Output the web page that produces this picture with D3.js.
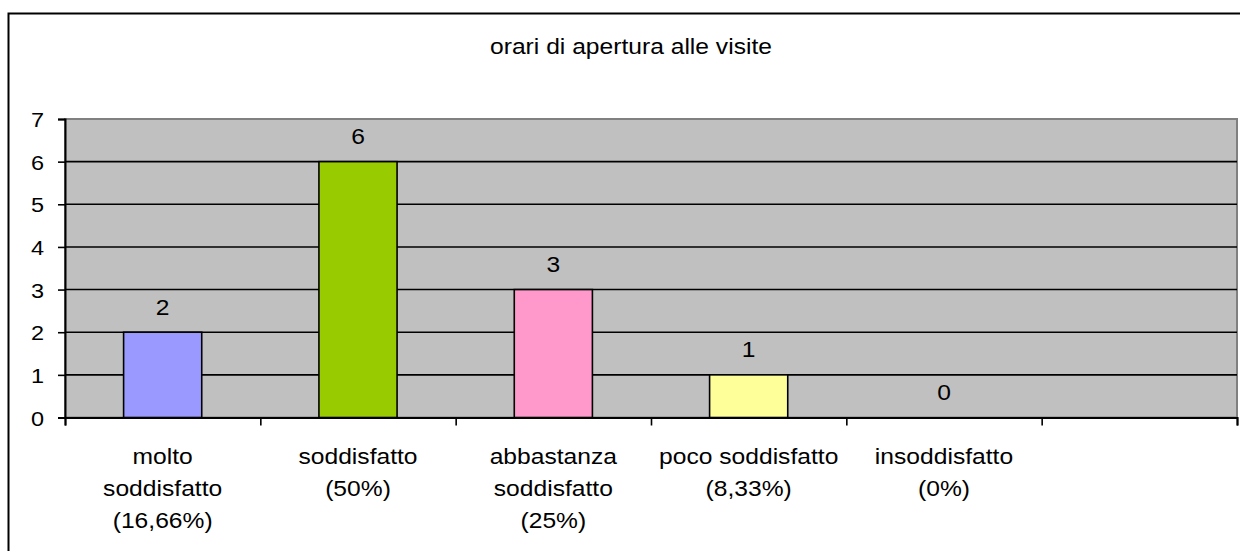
<!DOCTYPE html>
<html>
<head>
<meta charset="utf-8">
<script src="https://cdn.jsdelivr.net/npm/d3@7"></script>
<style>
  body { margin: 0; background: #fff; }
  svg text { font-family: "Liberation Sans", Arial, sans-serif; fill: #000; }
</style>
</head>
<body>
<div id="chart"></div>
<script>
var width = 1240,
    height = 551,
    sx = 1.12; // text in the picture is slightly stretched horizontally

var title = "orari di apertura alle visite";
var categories = ["molto soddisfatto", "soddisfatto", "abbastanza soddisfatto", "poco soddisfatto", "insoddisfatto", ""];
var catLines = [["molto", "soddisfatto", "(16,66%)"], ["soddisfatto", "(50%)"], ["abbastanza", "soddisfatto", "(25%)"], ["poco soddisfatto", "(8,33%)"], ["insoddisfatto", "(0%)"], []];
var values = [2, 6, 3, 1, 0, null];
var colors = ["#9999FF", "#99CC00", "#FF99CC", "#FFFF99", "#C0C0C0", "#C0C0C0"];
var yTicks = [0, 1, 2, 3, 4, 5, 6, 7];

var plot = {left: 65, right: 1237, top: 119, bottom: 417.5};

var svg = d3.select("#chart").append("svg")
    .attr("width", width)
    .attr("height", height);

// outer chart border (right / bottom edges are cut off)
svg.append("rect")
    .attr("x", 8.5).attr("y", 13.5)
    .attr("width", 1300).attr("height", 600)
    .attr("fill", "#fff")
    .attr("stroke", "#000")
    .attr("stroke-width", 2);

var x = d3.scaleBand()
    .domain(d3.range(categories.length))
    .range([plot.left, plot.right])
    .paddingInner(0);

var xEdge = d3.scaleLinear()
    .domain([0, categories.length])
    .range([plot.left, plot.right]);

var y = d3.scaleLinear()
    .domain([0, 7])
    .range([plot.bottom, plot.top]);

// plot background
svg.append("rect")
    .attr("x", plot.left).attr("y", plot.top)
    .attr("width", plot.right - plot.left)
    .attr("height", plot.bottom - plot.top)
    .attr("fill", "#C0C0C0")
    .attr("stroke", "#808080")
    .attr("stroke-width", 2);

// grid lines
svg.append("g")
    .selectAll("line")
    .data(yTicks.filter(function(d) { return d > 0 && d < 7; }))
    .enter().append("line")
    .attr("x1", plot.left).attr("x2", plot.right)
    .attr("y1", function(d) { return y(d); })
    .attr("y2", function(d) { return y(d); })
    .attr("stroke", "#000")
    .attr("stroke-width", 1.6);

// bars
var bw = x.bandwidth() * 0.4;
var barData = values.map(function(v, i) { return {v: v, i: i}; });
svg.append("g")
    .selectAll("rect")
    .data(barData.filter(function(d) { return d.v > 0; }))
    .enter().append("rect")
    .attr("x", function(d) { return x(d.i) + x.bandwidth() / 2 - bw / 2; })
    .attr("y", function(d) { return y(d.v); })
    .attr("width", bw)
    .attr("height", function(d) { return y(0) - y(d.v); })
    .attr("fill", function(d) { return colors[d.i]; })
    .attr("stroke", "#000")
    .attr("stroke-width", 1.6);

// value labels
svg.append("g")
    .selectAll("text")
    .data(barData.filter(function(d) { return d.v !== null; }))
    .enter().append("text")
    .attr("transform", function(d) {
        return "translate(" + (x(d.i) + x.bandwidth() / 2) + "," + (y(d.v) - 17.5) + ") scale(" + sx + ",1)";
    })
    .attr("text-anchor", "middle")
    .style("font-size", "22px")
    .text(function(d) { return d.v; });

// y axis
var yAxis = svg.append("g")
    .attr("transform", "translate(" + plot.left + ",0)")
    .call(d3.axisLeft(y).tickValues(yTicks).tickFormat(d3.format("d")).tickSize(7));
yAxis.select(".domain").attr("stroke", "#000").attr("stroke-width", 2);
yAxis.selectAll(".tick line").attr("stroke", "#000").attr("stroke-width", 1.6);
yAxis.selectAll(".tick text")
    .attr("font-family", null)
    .style("font-size", "21px")
    .attr("x", -21 / sx)
    .attr("dy", "0.36em")
    .attr("transform", "scale(" + sx + ",1)");

// x axis
var xAxis = svg.append("g")
    .attr("transform", "translate(0," + plot.bottom + ")")
    .call(d3.axisBottom(xEdge).tickValues(d3.range(categories.length + 1)).tickSize(8).tickFormat(""));
xAxis.select(".domain").attr("stroke", "#000").attr("stroke-width", 2);
xAxis.selectAll(".tick line").attr("stroke", "#000").attr("stroke-width", 1.6);

// category labels
var cat = svg.append("g")
    .selectAll("g")
    .data(catLines)
    .enter().append("g");
cat.each(function(lines, i) {
    d3.select(this).selectAll("text")
        .data(lines)
        .enter().append("text")
        .attr("transform", function(d, j) {
            return "translate(" + (x(i) + x.bandwidth() / 2) + "," + (463.5 + j * 32) + ") scale(" + sx + ",1)";
        })
        .attr("text-anchor", "middle")
        .style("font-size", "22px")
        .text(function(d) { return d; });
});

// title
svg.append("text")
    .attr("transform", "translate(631,54) scale(" + sx + ",1)")
    .attr("text-anchor", "middle")
    .style("font-size", "22px")
    .text(title);
</script>
</body>
</html>
